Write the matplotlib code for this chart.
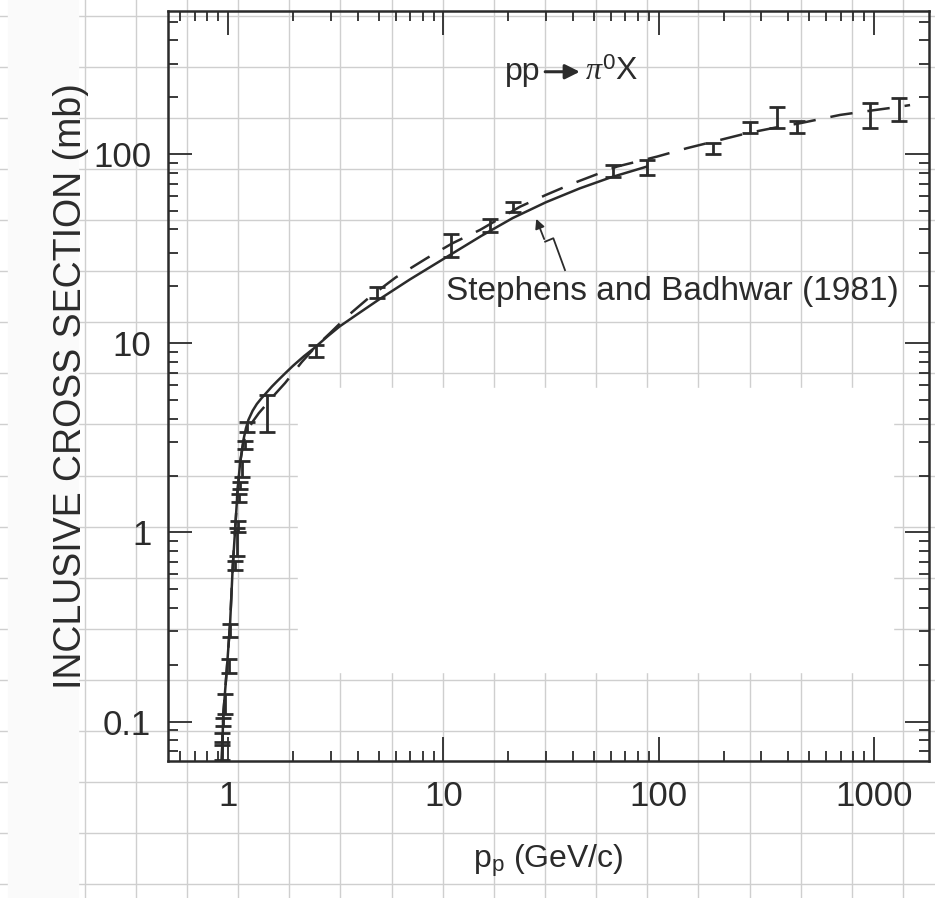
import matplotlib
matplotlib.use("Agg")
import matplotlib.pyplot as plt
import numpy as np
from matplotlib.lines import Line2D
from matplotlib.patches import Rectangle
from matplotlib.ticker import FixedLocator, FixedFormatter, NullFormatter

plt.rcParams['font.family'] = ['Liberation Sans', 'DejaVu Sans']
plt.rcParams['mathtext.fontset'] = 'custom'
plt.rcParams['mathtext.rm'] = 'Liberation Sans'
plt.rcParams['mathtext.it'] = 'Liberation Serif:italic'

ink = '#2b2b2b'

# data points: momentum (GeV/c), cross section (mb), lower / upper error edge
p_pts = [0.935, 0.935, 0.945, 0.968, 1.014, 1.02, 1.077, 1.097, 1.117, 1.129,
         1.137, 1.158, 1.2, 1.22, 1.52, 2.56, 4.91, 10.9, 16.5, 21.1,
         61.4, 88.6, 178, 266, 354, 438, 959, 1312]
sig_pts = [0.068, 0.082, 0.10, 0.125, 0.195, 0.305, 0.67, 0.84, 1.07, 1.52,
           1.78, 2.19, 2.9, 3.63, 4.27, 9.23, 18.5, 33.1, 42.3, 52.8,
           81.9, 85.3, 107.6, 138.9, 157, 145.9, 164.8, 178.5]
sig_lo = [0.063, 0.078, 0.095, 0.11, 0.18, 0.28, 0.63, 0.75, 1.0, 1.45,
          1.7, 1.97, 2.75, 3.41, 3.41, 8.5, 17.3, 28.7, 39.0, 49.7,
          76.1, 77.7, 100.4, 129, 137, 130.1, 137, 150.6]
sig_hi = [0.075, 0.087, 0.105, 0.14, 0.215, 0.33, 0.71, 1.06, 1.15, 1.6,
          1.86, 2.4, 3.05, 3.82, 5.33, 9.8, 19.9, 37.9, 45.3, 56.1,
          87.8, 93.3, 115.2, 148.7, 178.5, 150.6, 186, 197.7]

# Stephens and Badhwar (1981) curve
p_sb = [0.935, 0.951, 0.986, 1.022, 1.051, 1.078, 1.105, 1.137, 1.178, 1.21,
        1.243, 1.30, 1.36, 1.43, 1.5, 1.6, 1.7, 1.85, 2.0, 2.25, 2.5, 2.9,
        3.3, 4.0, 5.0, 7.0, 10.4, 15.0, 21.0, 30.0, 43.0, 60.0, 88.0]
sig_sb = [0.0627, 0.111, 0.1875, 0.332, 0.659, 1.03, 1.62, 2.33, 3.08, 3.55,
          3.94, 4.4, 4.78, 5.13, 5.45, 5.92, 6.35, 6.98, 7.6, 8.55, 9.4, 10.9,
          12.3, 14.3, 17.0, 21.8, 28.7, 37.0, 46.0, 55.8, 66.0, 75.5, 86.0]

# dashed fit
p_fit = [0.935, 0.951, 0.986, 1.022, 1.051, 1.078, 1.105, 1.137, 1.178, 1.23,
         1.30, 1.39, 1.486, 1.65, 1.84, 2.0, 2.20, 2.55, 2.98, 3.6, 4.57,
         6.0, 8.37, 11.0, 14.8, 22.7, 30.0, 40.2, 63.9, 98, 135, 190, 256.6,
         350, 453.8, 696, 1000, 1322, 1470]
sig_fit = [0.0627, 0.111, 0.1875, 0.332, 0.659, 1.03, 1.62, 2.33, 3.0, 3.45,
           3.85, 4.28, 4.67, 5.38, 6.17, 6.95, 7.97, 9.6, 11.35, 14.0, 17.66,
           22.3, 28.2, 33.8, 39.8, 52.8, 61.0, 70.3, 86.0, 97.1, 107.6, 118.5,
           129.1, 138.5, 145.9, 161.4, 171.0, 178.5, 182.0]

xtick_vals = [1, 10, 100, 1000]
xtick_labels = ['1', '10', '100', '1000']
ytick_vals = [0.1, 1, 10, 100]
ytick_labels = ['0.1', '1', '10', '100']

fig = plt.figure(figsize=(9.35, 8.98), dpi=100)
W, H = 935, 898

# faint scanner grid behind the page
for k in range(19):
    x = (33.6 + 51.14 * k) / W
    fig.add_artist(Line2D([x, x], [0, 1], color='#cfcfcf', lw=1.0, zorder=-3))
for k in range(18):
    y = 1 - (15.6 + 51.1 * k) / H
    fig.add_artist(Line2D([0, 1], [y, y], color='#cfcfcf', lw=1.0, zorder=-3))
fig.add_artist(Rectangle((298 / W, 1 - 672 / H), (893 - 298) / W, (672 - 388) / H,
                         transform=fig.transFigure, color='white', zorder=-2))
fig.add_artist(Rectangle((8 / W, 0), 70 / W, 1, transform=fig.transFigure,
                         color='#fafafa', zorder=-2))

ax = fig.add_axes([168 / W, 1 - 761 / H, (929 - 168) / W, (761 - 11) / H])
ax.patch.set_visible(False)
ax.set_xscale('log')
ax.set_yscale('log')
ax.set_xlim(0.526, 1800)
ax.set_ylim(0.0619, 572)

yerr = [np.array(sig_pts) - np.array(sig_lo), np.array(sig_hi) - np.array(sig_pts)]
ax.errorbar(p_pts, sig_pts, yerr=yerr, fmt='none', ecolor=ink, elinewidth=2.0,
            capsize=6, capthick=2.0)
ax.plot(p_sb, sig_sb, color=ink, lw=1.8)
ax.plot(p_fit, sig_fit, color=ink, lw=1.8, dashes=(9, 6))

# leader from label to the solid curve
ax.plot([36.7, 32.4, 29.7], [24.4, 35.96, 34.5], color=ink, lw=1.3)
ax.annotate('', xy=(26.7, 47.0), xytext=(29.7, 34.5),
            arrowprops=dict(arrowstyle='-|>', color=ink, lw=1.3, mutation_scale=14))
ax.text(10.26, 16.96, 'Stephens and Badhwar (1981)', fontsize=24, color=ink,
        ha='left', va='baseline')

# reaction label: pp -> pi0 X
ax.text(19.35, 247, 'pp', fontsize=23, color=ink, ha='left', va='baseline')
ax.annotate('', xy=(43.0, 273), xytext=(29.7, 273),
            arrowprops=dict(arrowstyle='-|>', color=ink, lw=2.2, mutation_scale=22,
                            shrinkA=0, shrinkB=0))
ax.text(45.5, 247, '$\\pi^{0}$X', fontsize=23, color=ink, ha='left', va='baseline')

ax.xaxis.set_major_locator(FixedLocator(xtick_vals))
ax.xaxis.set_major_formatter(FixedFormatter(xtick_labels))
ax.yaxis.set_major_locator(FixedLocator(ytick_vals))
ax.yaxis.set_major_formatter(FixedFormatter(ytick_labels))
ax.xaxis.set_minor_formatter(NullFormatter())
ax.yaxis.set_minor_formatter(NullFormatter())

ax.tick_params(which='both', direction='in', top=True, right=True, color=ink)
ax.tick_params(which='major', length=17, width=1.3, labelsize=25, labelcolor=ink)
ax.tick_params(axis='x', which='major', pad=14)
ax.tick_params(axis='y', which='major', pad=12)
ax.tick_params(which='minor', length=7, width=1.3)
for s in ax.spines.values():
    s.set_linewidth(1.8)
    s.set_color(ink)

ax.set_xlabel('p$_\\mathregular{p}$ (GeV/c)', fontsize=23, color=ink, labelpad=21)
ax.set_ylabel('INCLUSIVE CROSS SECTION (mb)', fontsize=27, color=ink, labelpad=3)

fig.savefig('out.png', dpi=100)
